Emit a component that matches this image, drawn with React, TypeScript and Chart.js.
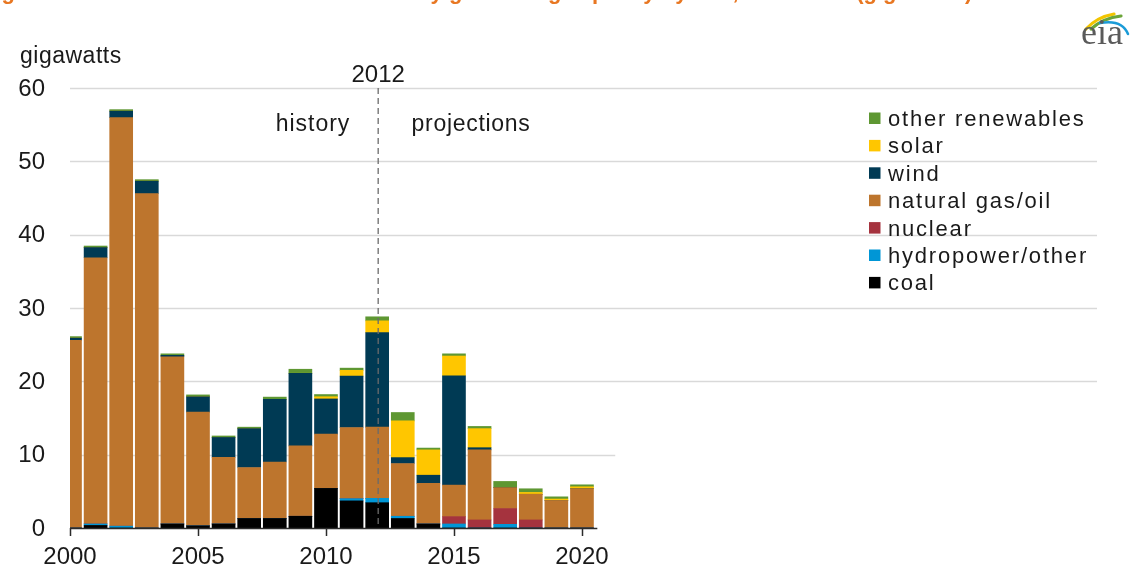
import { useEffect, useRef } from "react";
import { Chart, registerables } from "chart.js";

Chart.register(...registerables);

// ---------- data ----------
const years = [2000, 2001, 2002, 2003, 2004, 2005, 2006, 2007, 2008, 2009, 2010, 2011, 2012, 2013, 2014, 2015, 2016, 2017, 2018, 2019, 2020];
const coal = [0, 0.35, 0, 0, 0.55, 0.3, 0.55, 1.3, 1.3, 1.6, 5.4, 3.7, 3.45, 1.3, 0.55, 0, 0, 0, 0, 0, 0];
const hydroOther = [0, 0.2, 0.25, 0, 0, 0, 0, 0, 0, 0, 0, 0.3, 0.6, 0.3, 0, 0.55, 0, 0.5, 0, 0, 0];
const nuclear = [0, 0, 0, 0, 0, 0, 0, 0, 0, 0, 0, 0, 0, 0, 0, 1.0, 1.1, 2.15, 1.1, 0, 0];
const gasOil = [25.6, 36.3, 55.7, 45.6, 22.8, 15.5, 9.1, 6.95, 7.7, 9.6, 7.4, 9.7, 9.7, 7.2, 5.55, 4.3, 9.55, 2.85, 3.5, 3.75, 5.35];
const wind = [0.3, 1.4, 0.9, 1.7, 0.2, 2.1, 2.7, 5.3, 8.55, 9.9, 4.8, 7.0, 12.9, 0.8, 1.1, 14.9, 0.3, 0, 0, 0, 0];
const solar = [0, 0, 0, 0, 0, 0, 0, 0, 0, 0, 0.3, 0.8, 1.6, 5.0, 3.45, 2.7, 2.6, 0, 0.25, 0.2, 0.27];
const otherRenewables = [0.2, 0.2, 0.2, 0.2, 0.2, 0.25, 0.2, 0.2, 0.3, 0.55, 0.3, 0.3, 0.55, 1.15, 0.25, 0.3, 0.3, 0.85, 0.5, 0.3, 0.27];

const seriesLabels = ["coal", "hydropower/other", "nuclear", "natural gas/oil", "wind", "solar", "other renewables"];
const seriesValues = [coal, hydroOther, nuclear, gasOil, wind, solar, otherRenewables];
const seriesColors = ["#000000", "#0096D6", "#A5333E", "#BD752D", "#003A54", "#FFC600", "#5E9732"];

const yTicks = [0, 10, 20, 30, 40, 50, 60];
const xTicks = [2000, 2005, 2010, 2015, 2020];
const unitLabel = "gigawatts";
const dividerYear = 2012;
const dividerLabel = "2012";
const historyLabel = "history";
const projectionsLabel = "projections";
const titleText = "Figure 1. Annual additions to U.S. electricity generating capacity by fuel, 2000-2020 (gigawatts)";

const FONT = '"Liberation Sans", Arial, sans-serif';
const TEXT = "#1a1a1a";

function drawText(
  ctx: CanvasRenderingContext2D,
  s: string,
  x: number,
  y: number,
  size: number,
  align: CanvasTextAlign,
  spacing = 0,
  color = TEXT,
  weight = "normal",
  family = FONT
) {
  ctx.save();
  ctx.font = `${weight} ${size}px ${family}`;
  ctx.fillStyle = color;
  ctx.textAlign = align;
  ctx.textBaseline = "alphabetic";
  (ctx as any).letterSpacing = `${spacing}px`;
  ctx.fillText(s, x, y);
  ctx.restore();
}

const decorPlugin = {
  id: "decor",
  beforeDatasetsDraw(chart: any) {
    const { ctx, chartArea, scales } = chart;
    const xs = scales.x;
    const ys = scales.y;
    ctx.save();
    ctx.strokeStyle = "#D9D9D9";
    ctx.lineWidth = 1.6;
    yTicks.forEach((v) => {
      if (v === 0) return;
      const y = Math.round(ys.getPixelForValue(v)) + 0.5;
      const xEnd = v === 10 ? xs.getPixelForValue(2021.3) : chartArea.right;
      ctx.beginPath();
      ctx.moveTo(chartArea.left, y);
      ctx.lineTo(xEnd, y);
      ctx.stroke();
    });
    ctx.restore();
  },
  afterDatasetsDraw(chart: any) {
    const { ctx, chartArea, scales } = chart;
    const xs = scales.x;
    const ys = scales.y;
    const y0 = ys.getPixelForValue(0);
    ctx.save();
    // dashed divider
    const xd = xs.getPixelForValue(dividerYear) + 1;
    ctx.strokeStyle = "#6b6b6b";
    ctx.lineWidth = 1.3;
    ctx.setLineDash([6, 4]);
    ctx.beginPath();
    ctx.moveTo(xd, ys.getPixelForValue(60));
    ctx.lineTo(xd, y0);
    ctx.stroke();
    ctx.setLineDash([]);
    // axis line
    ctx.strokeStyle = "#2b2b2b";
    ctx.lineWidth = 1.5;
    ctx.beginPath();
    ctx.moveTo(chartArea.left, y0 + 0.5);
    ctx.lineTo(xs.getPixelForValue(2020.6), y0 + 0.5);
    ctx.stroke();
    xTicks.forEach((v) => {
      const x = Math.round(xs.getPixelForValue(v)) + 0.5;
      ctx.beginPath();
      ctx.moveTo(x, y0);
      ctx.lineTo(x, y0 + 8);
      ctx.stroke();
    });
    ctx.restore();
  },
  afterDraw(chart: any) {
    const { ctx, scales } = chart;
    const xs = scales.x;
    const ys = scales.y;
    // title (cut off at top)
    drawText(ctx, titleText, -18, -1.5, 22, "left", 0, "#E87722", "bold");
    // unit label
    drawText(ctx, unitLabel, 20, 63, 23, "left", 0.5);
    // y tick labels
    yTicks.forEach((v) => {
      drawText(ctx, String(v), 45, ys.getPixelForValue(v) + 7.5, 24, "right", 0);
    });
    // x tick labels
    xTicks.forEach((v) => {
      drawText(ctx, String(v), xs.getPixelForValue(v), 564, 24, "center", 0);
    });
    // divider annotations
    drawText(ctx, dividerLabel, xs.getPixelForValue(dividerYear) + 1, 81.5, 24, "center", 0);
    drawText(ctx, historyLabel, 313, 131, 23, "center", 1);
    drawText(ctx, projectionsLabel, 471, 131, 23, "center", 0.7);
    // legend (reverse order: top of stack first)
    const order = [6, 5, 4, 3, 2, 1, 0];
    order.forEach((idx, row) => {
      const base = 126 + row * 27.4;
      ctx.save();
      ctx.fillStyle = seriesColors[idx];
      ctx.fillRect(869, base - 13.5, 11.5, 11.5);
      ctx.restore();
      drawText(ctx, seriesLabels[idx], 888, base, 22, "left", 1.8);
    });
    // eia logo
    ctx.save();
    ctx.lineCap = "round";
    ctx.lineWidth = 3.2;
    ctx.strokeStyle = "#F2C500";
    ctx.beginPath();
    ctx.moveTo(1086, 29);
    ctx.quadraticCurveTo(1097, 17, 1114, 14);
    ctx.stroke();
    ctx.strokeStyle = "#6BA539";
    ctx.beginPath();
    ctx.moveTo(1091, 29);
    ctx.quadraticCurveTo(1103, 18, 1121, 16);
    ctx.stroke();
    ctx.strokeStyle = "#1B9BD7";
    ctx.lineWidth = 2.5;
    ctx.beginPath();
    ctx.moveTo(1100, 23);
    ctx.quadraticCurveTo(1122, 19, 1128, 34);
    ctx.stroke();
    ctx.restore();
    drawText(ctx, "eia", 1081, 44, 36, "left", 0, "#5a5a5a", "normal", '"Liberation Serif", "DejaVu Serif", serif');
  },
};

export default function App() {
  const canvasRef = useRef<HTMLCanvasElement | null>(null);

  useEffect(() => {
    if (!canvasRef.current) return;
    const chart = new Chart(canvasRef.current, {
      type: "bar",
      data: {
        datasets: seriesLabels.map((label, i) => ({
          label,
          data: years.map((yr, j) => ({ x: yr, y: seriesValues[i][j] })),
          backgroundColor: seriesColors[i],
          borderWidth: 0,
          barThickness: 23,
          clip: 0,
        })),
      } as any,
      options: {
        responsive: false,
        animation: false,
        layout: { padding: { left: 70, right: 33, top: 88, bottom: 40 } },
        plugins: {
          legend: { display: false },
          tooltip: { enabled: false },
        },
        scales: {
          x: { type: "linear", min: 2000, max: 2040.12, offset: false, display: false, stacked: true },
          y: { min: 0, max: 60, display: false, stacked: true },
        },
      } as any,
      plugins: [decorPlugin],
    });
    return () => chart.destroy();
  }, []);

  return (
    <div style={{ position: "fixed", left: 0, top: 0, width: 1130, height: 568, background: "#fff" }}>
      <canvas ref={canvasRef} width={1130} height={568} style={{ display: "block" }} />
    </div>
  );
}
